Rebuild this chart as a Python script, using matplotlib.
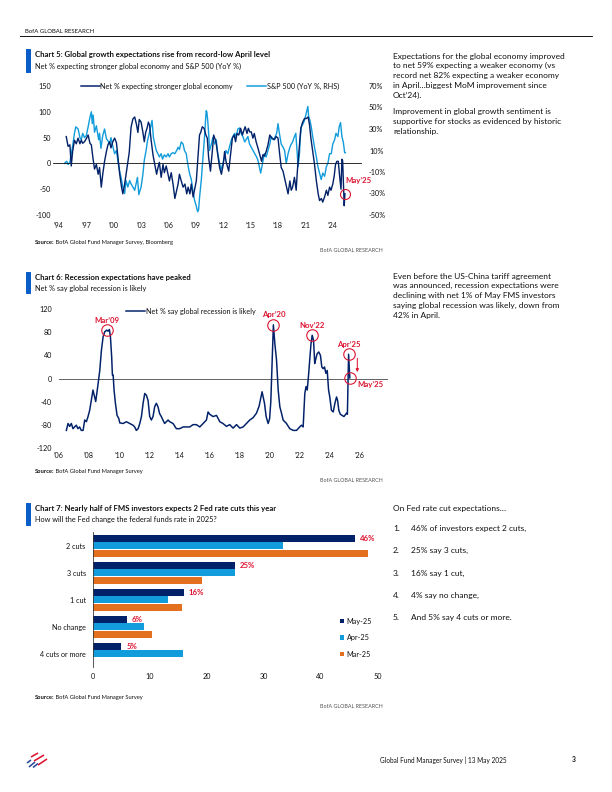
import matplotlib
matplotlib.use('Agg')
import matplotlib.pyplot as plt
from matplotlib.lines import Line2D
from matplotlib.patches import Rectangle
import numpy as np

# ---------------- DATA ----------------
# Chart 5: Net % expecting stronger global economy (left axis)
growth_years = [1994.8, 1995.0, 1995.2, 1995.35, 1995.5, 1995.7, 1995.9, 1996.1, 1996.3, 1996.45,
                1996.6, 1996.8, 1997.0, 1997.2, 1997.4, 1997.55, 1997.7, 1997.9, 1998.1, 1998.3,
                1998.45, 1998.64, 1998.8, 1999.0, 1999.2, 1999.37, 1999.55, 1999.7, 1999.9, 2000.1,
                2000.3, 2000.5, 2000.65, 2000.85, 2001.0, 2001.2, 2001.45, 2001.7, 2001.9, 2002.1,
                2002.3, 2002.5, 2002.65, 2002.8, 2003.0, 2003.2, 2003.35, 2003.5, 2003.65, 2003.8,
                2003.93, 2004.1, 2004.3, 2004.5, 2004.7, 2004.85, 2005.0, 2005.2, 2005.4, 2005.55,
                2005.75, 2005.95, 2006.1, 2006.3, 2006.5, 2006.7, 2006.9, 2007.05, 2007.2, 2007.4,
                2007.6, 2007.8, 2008.0, 2008.15, 2008.35, 2008.5, 2008.7, 2008.85, 2009.05, 2009.2,
                2009.4, 2009.55, 2009.7, 2009.9, 2010.1, 2010.25, 2010.4, 2010.6, 2010.8, 2010.95,
                2011.2, 2011.4, 2011.6, 2011.8, 2012.0, 2012.15, 2012.3, 2012.6, 2012.8, 2013.0,
                2013.2, 2013.35, 2013.5, 2013.7, 2013.9, 2014.1, 2014.2, 2014.4, 2014.6, 2014.75,
                2014.9, 2015.07, 2015.25, 2015.4, 2015.6, 2015.8, 2016.0, 2016.2, 2016.35, 2016.5,
                2016.7, 2016.9, 2017.1, 2017.3, 2017.6, 2017.8, 2018.0, 2018.15, 2018.35, 2018.55,
                2018.7, 2018.9, 2019.1, 2019.3, 2019.45, 2019.6, 2019.8, 2019.99, 2020.1, 2020.2,
                2020.35, 2020.5, 2020.7, 2020.9, 2021.1, 2021.3, 2021.45, 2021.6, 2021.8, 2022.0,
                2022.2, 2022.4, 2022.55, 2022.75, 2022.9, 2023.1, 2023.3, 2023.46, 2023.65, 2023.8,
                2024.0, 2024.15, 2024.3, 2024.45, 2024.6, 2024.75, 2024.9, 2025.0, 2025.08, 2025.17,
                2025.25, 2025.33]
growth_net = [52, 33, 36, -5, 23, 45, 38, 49, 38, 45,
              39, 42, 48, 55, 39, 36, 14, -11, -2, -21,
              -8, -46, -21, 4, 23, 36, 42, 30, 42, 49,
              40, 5, -20, -45, -59, -40, -10, 21, 70, 86,
              90, 75, 60, 85, 80, 60, 42, 60, 68, 80,
              74, 45, 17, -2, -21, -8, 2, -27, -2, -18,
              -5, -21, -34, -18, -40, -68, -52, -40, -21, -34,
              -46, -40, -59, -46, -59, -40, -65, -52, -34, 4,
              55, 61, 71, 68, 55, 49, 11, -15, 23, 55,
              42, 17, -8, -21, -2, 23, 4, -15, 17, 49,
              55, 42, 58, 55, 68, 55, 61, 71, 58, 68,
              61, 61, 49, 58, 42, 30, 17, 4, 17, 14,
              23, 36, 55, 49, 46, 52, 49, 23, -8, -15,
              -27, -43, -59, -34, -52, -46, -27, -52, -20, 4,
              36, 68, 80, 87, 87, 90, 75, 49, 23, -2,
              -34, -59, -72, -68, -75, -65, -52, -62, -46, -52,
              -40, -25, -2, 4, 4, -25, -50, 8, 5, -40,
              -82, -59]

# Chart 5: S&P 500 YoY % (right axis)
spx_years = [1994.6, 1994.85, 1995.0, 1995.2, 1995.35, 1995.5, 1995.7, 1995.85, 1996.1, 1996.3,
             1996.45, 1996.6, 1996.8, 1997.0, 1997.2, 1997.4, 1997.55, 1997.65, 1997.75, 1997.9,
             1998.1, 1998.35, 1998.45, 1998.6, 1998.8, 1999.0, 1999.2, 1999.37, 1999.55, 1999.7,
             1999.9, 2000.1, 2000.3, 2000.5, 2000.65, 2000.8, 2001.0, 2001.2, 2001.35, 2001.55,
             2001.75, 2001.9, 2002.1, 2002.3, 2002.45, 2002.6, 2002.75, 2003.0, 2003.2, 2003.35,
             2003.55, 2003.7, 2003.9, 2004.05, 2004.2, 2004.35, 2004.5, 2004.66, 2004.85, 2005.0,
             2005.2, 2005.35, 2005.55, 2005.75, 2005.95, 2006.1, 2006.3, 2006.5, 2006.7, 2006.9,
             2007.05, 2007.2, 2007.4, 2007.6, 2007.75, 2007.95, 2008.1, 2008.3, 2008.5, 2008.67,
             2008.85, 2009.05, 2009.2, 2009.3, 2009.4, 2009.6, 2009.77, 2009.95, 2010.13, 2010.2,
             2010.3, 2010.4, 2010.5, 2010.7, 2010.86, 2011.05, 2011.23, 2011.4, 2011.6, 2011.75,
             2011.96, 2012.15, 2012.3, 2012.5, 2012.7, 2012.9, 2013.05, 2013.25, 2013.42, 2013.6,
             2013.78, 2013.95, 2014.15, 2014.35, 2014.5, 2014.7, 2014.88, 2015.07, 2015.25, 2015.45,
             2015.65, 2015.8, 2015.95, 2016.1, 2016.3, 2016.5, 2016.7, 2016.9, 2017.1, 2017.26,
             2017.5, 2017.7, 2017.85, 2018.0, 2018.15, 2018.35, 2018.55, 2018.72, 2018.9, 2019.1,
             2019.3, 2019.45, 2019.6, 2019.8, 2019.95, 2020.1, 2020.2, 2020.35, 2020.45, 2020.55,
             2020.75, 2020.9, 2021.1, 2021.27, 2021.35, 2021.5, 2021.64, 2021.8, 2022.0, 2022.2,
             2022.37, 2022.55, 2022.73, 2022.9, 2023.1, 2023.3, 2023.46, 2023.65, 2023.83, 2024.0,
             2024.2, 2024.35, 2024.56, 2024.7, 2024.85, 2025.0, 2025.15, 2025.3, 2025.38]
spx_yoy = [-2, 0, -3, -1, 7, 14, 26, 32, 30, 22,
           20, 26, 22, 24, 32, 41, 46, 35, 43, 27,
           33, 20, 26, 12, 24, 30, 21, 19, 16, 22,
           14, 7, 10, -2, -9, -15, -24, -30, -18, -24,
           -18, -21, -24, -27, -21, -15, -31, -24, -12, 1,
           10, 19, 26, 32, 38, 22, 16, 10, 7, 4,
           7, 2, 6, 4, 7, 4, 7, 8, 7, 10,
           13, 11, 18, 16, 10, 7, -2, -11, -17, -27,
           -36, -42, -47, -45, -34, -17, 2, 23, 47, 46,
           38, 26, 10, 16, 22, 16, 20, 7, -2, -8,
           -2, 4, 10, 7, 14, 20, 23, 26, 23, 30,
           31, 26, 23, 18, 20, 23, 16, 13, 10, 7,
           4, 1, -5, -11, -2, 7, 4, 10, 16, 23,
           20, 23, 26, 35, 26, 16, 13, 10, -2, 7,
           13, 16, 18, 23, 26, 7, -5, 7, 23, 32,
           35, 38, 45, 51, 42, 38, 32, 23, 13, 4,
           -5, -11, -17, -11, -14, -5, -2, 7, 7, 16,
           20, 26, 23, 32, 36, 23, 18, 8, 8]

growth_mark_year = 2025.33
growth_mark_val = -59
growth_mark_label = "May’25"

# Chart 6: Net % say global recession is likely
rec_years = [2006.49, 2006.6, 2006.71, 2006.82, 2006.93, 2007.04, 2007.15, 2007.26, 2007.37, 2007.48,
             2007.6, 2007.71, 2007.82, 2007.93, 2008.04, 2008.15, 2008.26, 2008.37, 2008.44, 2008.53,
             2008.6, 2008.71, 2008.82, 2008.93, 2009.04, 2009.17, 2009.26, 2009.35, 2009.42, 2009.5,
             2009.55, 2009.6, 2009.66, 2009.75, 2009.86, 2009.97, 2010.04, 2010.26, 2010.48, 2010.7,
             2010.92, 2011.03, 2011.14, 2011.26, 2011.37, 2011.48, 2011.59, 2011.7, 2011.81, 2011.92,
             2012.03, 2012.14, 2012.25, 2012.36, 2012.47, 2012.58, 2012.69, 2012.8, 2012.91, 2013.02,
             2013.14, 2013.25, 2013.36, 2013.58, 2013.8, 2014.03, 2014.25, 2014.47, 2014.69, 2014.91,
             2015.13, 2015.36, 2015.58, 2015.8, 2015.91, 2016.02, 2016.24, 2016.47, 2016.69, 2016.9,
             2017.13, 2017.35, 2017.57, 2017.8, 2018.02, 2018.24, 2018.46, 2018.68, 2018.9, 2019.13,
             2019.3, 2019.5, 2019.66, 2019.77, 2019.9, 2020.0, 2020.08, 2020.17, 2020.25, 2020.35,
             2020.46, 2020.57, 2020.68, 2020.8, 2020.9, 2021.12, 2021.34, 2021.57, 2021.79, 2022.0,
             2022.12, 2022.23, 2022.34, 2022.42, 2022.5, 2022.58, 2022.67, 2022.75, 2022.83, 2022.92,
             2023.0, 2023.08, 2023.16, 2023.27, 2023.38, 2023.47, 2023.56, 2023.65, 2023.74, 2023.83,
             2023.92, 2024.0, 2024.11, 2024.23, 2024.34, 2024.45, 2024.52, 2024.6, 2024.7, 2024.82,
             2024.94, 2025.03, 2025.12, 2025.17, 2025.25, 2025.33]
rec_net = [-90, -78, -83, -78, -87, -84, -81, -87, -84, -90,
           -90, -72, -75, -66, -55, -38, -20, -32, -40, -23,
           -9, 14, 49, 72, 81, 84, 82, 85, 72, 38,
           6, 6, -20, -43, -64, -69, -77, -78, -75, -78,
           -81, -84, -90, -87, -78, -66, -43, -26, -29, -38,
           -66, -72, -66, -49, -43, -49, -61, -66, -72, -78,
           -75, -72, -75, -78, -87, -87, -84, -84, -84, -80,
           -80, -84, -78, -72, -58, -62, -66, -64, -75, -78,
           -83, -80, -86, -80, -86, -84, -78, -72, -68, -60,
           -48, -23, -43, -66, -78, -70, -40, 30, 93, 60,
           32, -20, -49, -61, -72, -78, -87, -90, -90, -84,
           -81, -84, -26, -14, -20, 3, 32, 60, 75, 66,
           26, 35, 43, 46, 40, 20, 17, 20, 9, 14,
           -20, -32, -55, -58, -43, -32, -38, -55, -62, -64,
           -66, -63, -60, -62, 42, 1]

rec_mark_years = [2009.17, 2020.25, 2022.83, 2025.25, 2025.33]
rec_mark_vals = [84, 93, 75, 42, 1]
rec_mark_labels = ["Mar’09", "Apr’20", "Nov’22", "Apr’25", "May’25"]

# Chart 7: Fed rate cut expectations
fed_categories = ["2 cuts", "3 cuts", "1 cut", "No change", "4 cuts or more"]
fed_may25 = [46, 25, 16, 6, 5]
fed_apr25 = [33.5, 25, 13.3, 9, 15.8]
fed_mar25 = [48.4, 19.2, 15.7, 10.4, 0]
fed_series_labels = ["May-25", "Apr-25", "Mar-25"]

# ---------------- STYLE ----------------
plt.rcParams['font.family'] = ['Lato', 'DejaVu Sans']
plt.rcParams['axes.unicode_minus'] = False
NAVY = '#012169'
LIGHT = '#129CDB'
ORANGE = '#E3701E'
RED = '#DC1431'
BARBLUE = '#0A5CC7'
TXT = '#111111'
GREY = '#555555'

W, H = 612, 792
fig = plt.figure(figsize=(8.5, 11), dpi=72)


def rect(x0, y0, x1, y1):
    return [x0 / W, 1 - y1 / H, (x1 - x0) / W, (y1 - y0) / H]


def ftext(x, y, s, **kw):
    kw.setdefault('color', TXT)
    return fig.text(x / W, 1 - y / H, s, **kw)


def title_block(yb0, yb1, title, sub, yt, ys):
    fig.add_artist(Rectangle((26 / W, 1 - yb1 / H), 3.5 / W, (yb1 - yb0) / H,
                             color=BARBLUE, transform=fig.transFigure))
    ftext(35, yt, title, fontsize=7.8, fontweight='bold', va='center')
    ftext(35, ys, sub, fontsize=7.4, va='center')


def source_block(ax, y_src, src, y_brand):
    t = ftext(35, y_src, 'Source:', fontsize=5.7, fontweight='bold', va='center')
    ax.annotate(' ' + src, xy=(1, 0.5), xycoords=t, va='center', ha='left',
                fontsize=5.7, color=TXT, annotation_clip=False)
    ftext(383, y_brand, 'BofA GLOBAL RESEARCH', fontsize=5.4, ha='right', va='center', color=GREY)


# Header
ftext(25, 31.5, 'BofA GLOBAL RESEARCH', fontsize=6, va='center')
fig.add_artist(Line2D([20 / W, 592 / W], [1 - 36 / H, 1 - 36 / H], color='black', lw=0.9,
                      transform=fig.transFigure))

# ---------------- CHART 5 ----------------
title_block(49.3, 71.7, 'Chart 5: Global growth expectations rise from record-low April level',
            'Net % expecting stronger global economy and S&P 500 (YoY %)', 55, 66.7)
ax5 = fig.add_axes(rect(53, 86, 362, 215))
ax5r = ax5.twinx()
ax5.set_zorder(ax5r.get_zorder() + 1)
ax5.patch.set_visible(False)

ax5r.plot(spx_years, spx_yoy, color=LIGHT, lw=1.4)
ax5.plot(growth_years, growth_net, color=NAVY, lw=1.4)
ax5.axhline(0, color='black', lw=0.8, zorder=0.5)

ax5.set_ylim(-100, 150)
ax5r.set_ylim(-50, 70)
ax5.set_xlim(1993.35, 2027.2)
ax5.set_yticks([150, 100, 50, 0, -50, -100])
ax5r.set_yticks([70, 50, 30, 10, -10, -30, -50])
ax5r.set_yticklabels([f'{v}%' for v in [70, 50, 30, 10, -10, -30, -50]])
xt5 = list(range(1994, 2025, 3))
ax5.set_xticks(xt5)
ax5.set_xticklabels([f"’{y % 100:02d}" for y in xt5])
for a in (ax5, ax5r):
    for s in a.spines.values():
        s.set_visible(False)
    a.tick_params(length=0, labelsize=7.2, colors=TXT)
ax5.tick_params(axis='y', pad=2)
ax5.tick_params(axis='x', pad=7)
ax5r.tick_params(axis='y', pad=7)

ax5.plot([growth_mark_year], [growth_mark_val], marker='o', ms=10, mfc='none', mec=RED, mew=1.1)
ax5.annotate(growth_mark_label, xy=(growth_mark_year, growth_mark_val), xytext=(14, 13),
             textcoords='offset points', ha='center', va='center', color=RED,
             fontweight='bold', fontsize=7.8, annotation_clip=False)

h5 = [Line2D([], [], color=NAVY, lw=1.5), Line2D([], [], color=LIGHT, lw=1.5)]
fig.legend(h5, ['Net % expecting stronger global economy', 'S&P 500 (YoY %, RHS)'],
           loc='center', bbox_to_anchor=(210 / W, 1 - 86.5 / H), ncol=2, frameon=False,
           fontsize=7.2, handlelength=2.6, handletextpad=0.1, columnspacing=2.0, borderpad=0,
           labelcolor=TXT)
source_block(ax5, 242.7, 'BofA Global Fund Manager Survey, Bloomberg', 251)

# ---------------- CHART 6 ----------------
title_block(271.7, 293.3, 'Chart 6: Recession expectations have peaked',
            'Net % say global recession is likely', 277.3, 288.3)
ax6 = fig.add_axes(rect(59, 309.3, 388, 447.7))
ax6.plot(rec_years, rec_net, color=NAVY, lw=1.5)
ax6.axhline(0, color='#555555', lw=0.9, zorder=0.5)
ax6.set_ylim(-120, 120)
ax6.set_xlim(2006, 2027.87)
ax6.set_yticks([120, 80, 40, 0, -40, -80, -120])
xt6 = list(range(2006, 2027, 2))
ax6.set_xticks(xt6)
ax6.set_xticklabels([f"’{y % 100:02d}" for y in xt6])
for s in ax6.spines.values():
    s.set_visible(False)
ax6.tick_params(length=0, labelsize=7.2, colors=TXT)
ax6.tick_params(axis='y', pad=7)
ax6.tick_params(axis='x', pad=4)

ax6.plot(rec_mark_years, rec_mark_vals, ls='none', marker='o', ms=11.5, mfc='none', mec=RED, mew=1.1)
for yr, v, lab in zip(rec_mark_years, rec_mark_vals, rec_mark_labels):
    if lab.startswith('May'):
        off, ha = (21, -7), 'center'
    else:
        off, ha = (0, 10), 'center'
    ax6.annotate(lab, xy=(yr, v), xytext=off, textcoords='offset points', ha=ha, va='center',
                 color=RED, fontweight='bold', fontsize=7.8, annotation_clip=False)
ax6.annotate('', xy=(rec_mark_years[-1] + 0.5, rec_mark_vals[-1] + 10),
             xytext=(rec_mark_years[-1] + 0.5, rec_mark_vals[-2] - 7),
             arrowprops=dict(arrowstyle='-|>', color=RED, lw=1, mutation_scale=6,
                             shrinkA=0, shrinkB=0))
ax6.legend([Line2D([], [], color=NAVY, lw=1.5)], ['Net % say global recession is likely'],
           loc='center', bbox_to_anchor=(191 / W, 1 - 311 / H), bbox_transform=fig.transFigure,
           frameon=False, fontsize=7.2, handlelength=2.6, handletextpad=0.1, borderpad=0,
           labelcolor=TXT)
source_block(ax6, 472, 'BofA Global Fund Manager Survey', 480.7)

# ---------------- CHART 7 ----------------
title_block(503.3, 525, 'Chart 7: Nearly half of FMS investors expects 2 Fed rate cuts this year',
            'How will the Fed change the federal funds rate in 2025?', 509, 519.5)
ax7 = fig.add_axes(rect(92.7, 532.2, 377.3, 667.2))
ypos = np.arange(len(fed_categories))
off = 0.278
bh = 0.25
b1 = ax7.barh(ypos - off, fed_may25, height=bh, color=NAVY, label=fed_series_labels[0])
b2 = ax7.barh(ypos, fed_apr25, height=bh, color=LIGHT, label=fed_series_labels[1])
b3 = ax7.barh(ypos + off, fed_mar25, height=bh, color=ORANGE, label=fed_series_labels[2])
for i, v in enumerate(fed_may25):
    ax7.annotate(f'{v:g}%', xy=(v, i - off), xytext=(5, 0), textcoords='offset points',
                 va='center', ha='left', color=RED, fontweight='bold', fontsize=7.8)
ax7.set_ylim(len(fed_categories) - 0.5, -0.5)
ax7.set_xlim(0, 50)
ax7.set_yticks(ypos)
ax7.set_yticklabels(fed_categories)
ax7.set_xticks(range(0, 51, 10))
for k in ('top', 'right', 'bottom'):
    ax7.spines[k].set_visible(False)
ax7.spines['left'].set_color('#333333')
ax7.spines['left'].set_linewidth(0.8)
ax7.tick_params(length=0, labelsize=7.2, colors=TXT)
ax7.tick_params(axis='y', pad=7)
ax7.tick_params(axis='x', pad=6)
ax7.legend(handles=[b1, b2, b3], loc='center', bbox_to_anchor=(356 / W, 1 - 637.7 / H),
           bbox_transform=fig.transFigure, frameon=False, fontsize=7.2, handlelength=0.55,
           handleheight=0.55, handletextpad=0.4, labelspacing=1.3, borderpad=0, labelcolor=TXT)
source_block(ax7, 697.3, 'BofA Global Fund Manager Survey', 706.7)

# ---------------- RIGHT COLUMN TEXT ----------------
BODY = 8.4
block1 = ["Expectations for the global economy improved",
          "to net 59% expecting a weaker economy (vs",
          "record net 82% expecting a weaker economy",
          "in April…biggest MoM improvement since",
          "Oct’24)."]
for i, line in enumerate(block1):
    ftext(393, 56 + i * 9.75, line, fontsize=BODY, va='center')
block1b = ["Improvement in global growth sentiment is",
           "supportive for stocks as evidenced by historic",
           "relationship."]
for i, line in enumerate(block1b):
    ftext(393, 111.7 + i * 9.75, line, fontsize=BODY, va='center')

block2 = ["Even before the US-China tariff agreement",
          "was announced, recession expectations were",
          "declining with net 1% of May FMS investors",
          "saying global recession was likely, down from",
          "42% in April."]
for i, line in enumerate(block2):
    ftext(393, 276 + i * 9.8, line, fontsize=BODY, va='center')

ftext(393, 509, "On Fed rate cut expectations…", fontsize=BODY, va='center')
items = ["46% of investors expect 2 cuts,", "25% say 3 cuts,", "16% say 1 cut,",
         "4% say no change,", "And 5% say 4 cuts or more."]
for i, line in enumerate(items):
    y = 528.3 + i * 22.35
    ftext(393, y, f"{i + 1}.", fontsize=BODY, va='center')
    ftext(410.7, y, line, fontsize=BODY, va='center')

# ---------------- FOOTER ----------------
for (x0, y0, x1, y1, c) in [(27, 763, 31, 760, '#2A4B9B'), (29, 767, 35, 762, '#2A4B9B'),
                            (33, 767.5, 38, 763.5, '#2A4B9B'),
                            (31, 757, 38, 753, RED), (34, 761, 44, 755, RED),
                            (38, 765, 47, 759, RED)]:
    fig.add_artist(Line2D([x0 / W, x1 / W], [1 - y0 / H, 1 - y1 / H], color=c, lw=1.6,
                          solid_capstyle='butt', transform=fig.transFigure))
ftext(507, 760, 'Global Fund Manager Survey | 13 May 2025', fontsize=6.5, ha='right', va='center')
ftext(572, 760, '3', fontsize=6.8, fontweight='bold', ha='left', va='center')

fig.savefig('out.png', dpi=72)
